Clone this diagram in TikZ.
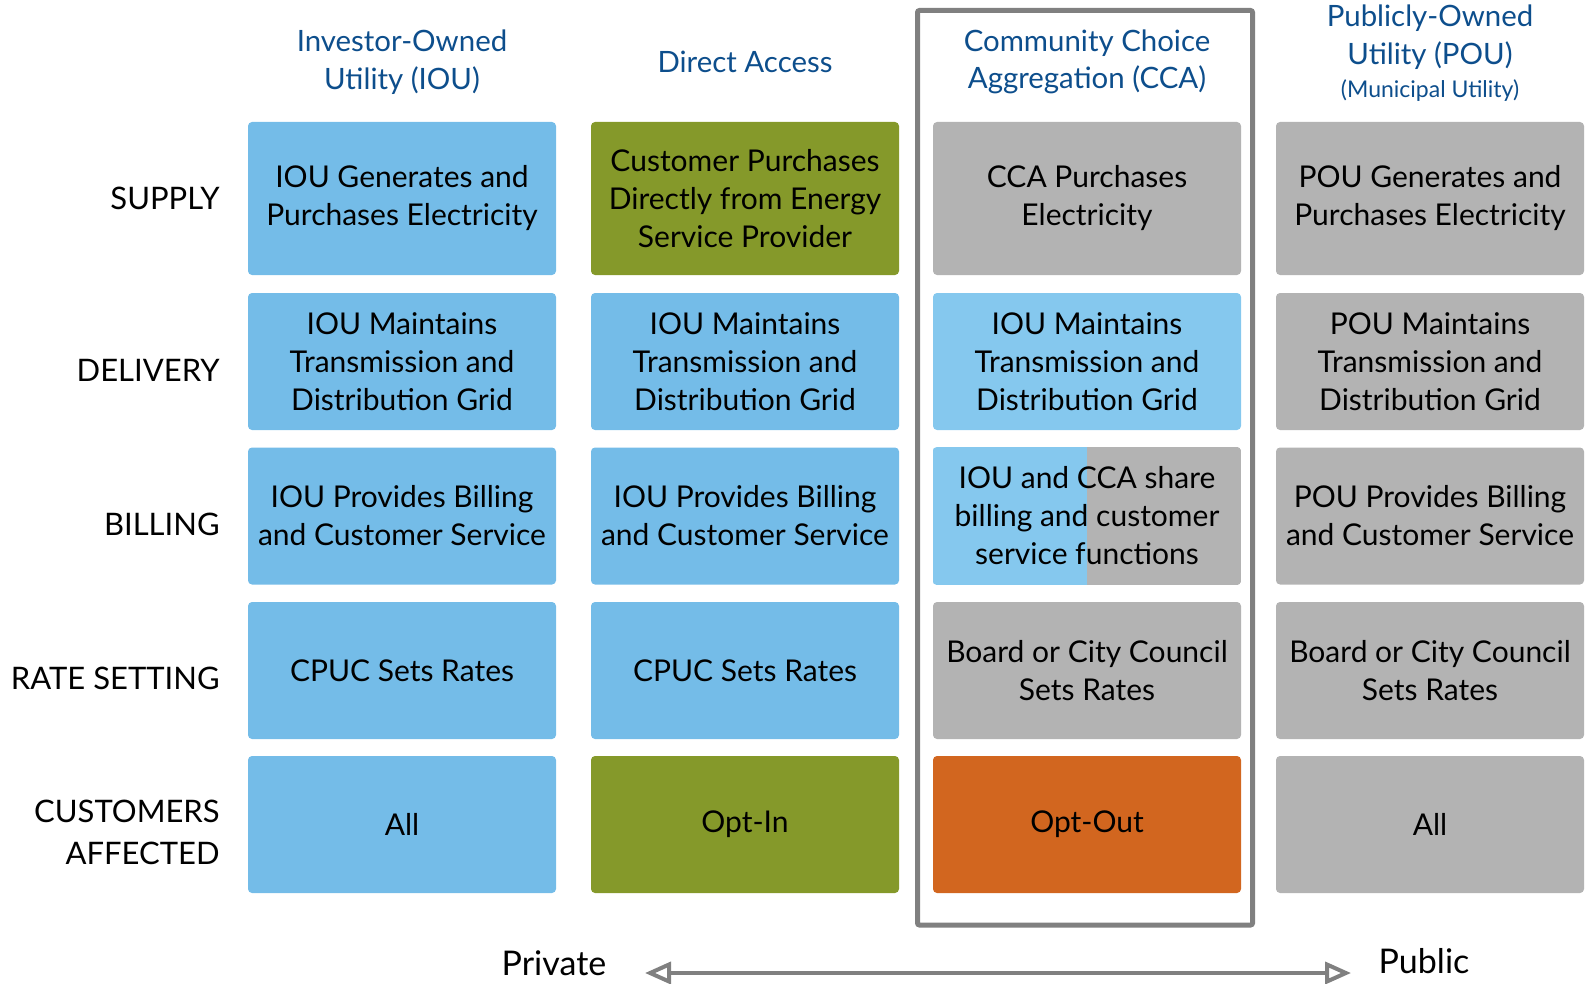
\documentclass[tikz,border=0pt]{standalone}
\usepackage{fontspec}
\setmainfont{Lato}
\usepackage{xcolor}
\usepackage{tikz}
\usetikzlibrary{positioning, arrows.meta, calc}

\definecolor{ioublue}{RGB}{116,188,232}
\definecolor{ccablue}{RGB}{133,200,238}
\definecolor{dagreen}{RGB}{133,153,42}
\definecolor{pougray}{RGB}{179,179,179}
\definecolor{optorange}{RGB}{210,102,31}
\definecolor{headblue}{RGB}{13,78,140}
\definecolor{framegray}{RGB}{128,128,128}

\begin{document}
\begin{tikzpicture}[x=0.5pt, y=-0.5pt,
    cell/.style={rounded corners=2pt, minimum width=154pt, minimum height=68.5pt,
        inner sep=0pt, align=center, font=\fontsize{15}{19}\selectfont},
    tallcell/.style={cell, minimum height=76.5pt},
    head/.style={align=center, text=headblue, font=\fontsize{14.7}{18.7}\selectfont},
    rowlabel/.style={anchor=east, align=right, inner sep=0pt, font=\fontsize{15.5}{21}\selectfont},
    ends/.style={font=\fontsize{17}{20}\selectfont}]

    \useasboundingbox (0,0) rectangle (1589,984);

    % Frame round the CCA column
    \draw[framegray, line width=2.5pt, rounded corners=1pt] (917.5,10.5) rectangle (1252.5,925);

    % Column heads
    \node[head] (h1) at (402,62) {Investor-Owned\\Utility (IOU)};
    \node[head] (h2) at (745,62) {Direct Access};
    \node[head] (h3) at (1087,62) {Community Choice\\Aggregation (CCA)};
    \node[head] (h4) at (1430,37) {Publicly-Owned\\Utility (POU)};
    \node[head, font=\fontsize{11.5}{13}\selectfont] (h4b) at (1430,91) {(Municipal Utility)};

    % Row labels
    \node[rowlabel] (supply) at (220,198) {SUPPLY};
    \node[rowlabel] (delivery) at (220,370) {DELIVERY};
    \node[rowlabel] (billing) at (220,524) {BILLING};
    \node[rowlabel] (rates) at (220,678) {RATE SETTING};
    \node[rowlabel] (affected) at (220,832) {CUSTOMERS\\AFFECTED};

    % Investor-owned utility
    \node[tallcell, fill=ioublue] (sup1) at (402,198.5) {IOU Generates and\\Purchases Electricity};
    \node[cell, fill=ioublue] (del1) at (402,361.5) {IOU Maintains\\Transmission and\\Distribution Grid};
    \node[cell, fill=ioublue] (bil1) at (402,516) {IOU Provides Billing\\and Customer Service};
    \node[cell, fill=ioublue] (rat1) at (402,670.5) {CPUC Sets Rates};
    \node[cell, fill=ioublue] (cus1) at (402,824.5) {All};

    % Direct access
    \node[tallcell, fill=dagreen] (sup2) at (745,198.5) {Customer Purchases\\Directly from Energy\\Service Provider};
    \node[cell, fill=ioublue] (del2) at (745,361.5) {IOU Maintains\\Transmission and\\Distribution Grid};
    \node[cell, fill=ioublue] (bil2) at (745,516) {IOU Provides Billing\\and Customer Service};
    \node[cell, fill=ioublue] (rat2) at (745,670.5) {CPUC Sets Rates};
    \node[cell, fill=dagreen] (cus2) at (745,824.5) {Opt-In};

    % Community choice aggregation
    \node[tallcell, fill=pougray] (sup3) at (1087,198.5) {CCA Purchases\\Electricity};
    \node[cell, fill=ccablue] (del3) at (1087,361.5) {IOU Maintains\\Transmission and\\Distribution Grid};
    \node[cell] (bil3) at (1087,516) {};
    \begin{scope}
        \clip[rounded corners=2pt] (bil3.north west) rectangle (bil3.south east);
        \fill[ccablue] (bil3.north west) rectangle (bil3.south);
        \fill[pougray] (bil3.north) rectangle (bil3.south east);
    \end{scope}
    \node[cell] (bil3t) at (bil3) {IOU and CCA share\\billing and customer\\service functions};
    \node[cell, fill=pougray] (rat3) at (1087,670.5) {Board or City Council\\Sets Rates};
    \node[cell, fill=optorange] (cus3) at (1087,824.5) {Opt-Out};

    % Publicly-owned utility
    \node[tallcell, fill=pougray] (sup4) at (1430,198.5) {POU Generates and\\Purchases Electricity};
    \node[cell, fill=pougray] (del4) at (1430,361.5) {POU Maintains\\Transmission and\\Distribution Grid};
    \node[cell, fill=pougray] (bil4) at (1430,516) {POU Provides Billing\\and Customer Service};
    \node[cell, fill=pougray] (rat4) at (1430,670.5) {Board or City Council\\Sets Rates};
    \node[cell, fill=pougray] (cus4) at (1430,824.5) {All};

    % Private to public scale
    \node[ends] (priv) at (554,963) {Private};
    \node[ends] (pub) at (1424,961) {Public};
    \coordinate (privend) at (645,973);
    \coordinate (pubend) at (1351,973);
    \draw[framegray, line width=2pt,
        {Triangle[open, fill=white, length=13pt, width=11pt]}-{Triangle[open, fill=white, length=13pt, width=11pt]}]
        (privend) -- (pubend);

\end{tikzpicture}
\end{document}
